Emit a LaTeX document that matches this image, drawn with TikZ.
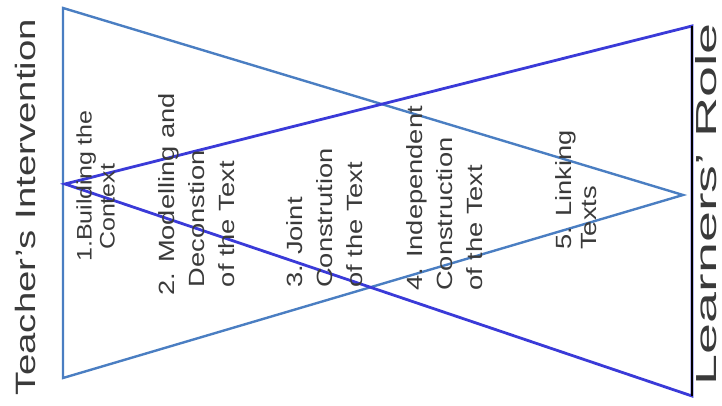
\documentclass[tikz,border=0pt]{standalone}
\usepackage{fontspec}
\setmainfont{Liberation Sans}
\usepackage{xcolor}
\usetikzlibrary{positioning}
\definecolor{cycleblue}{HTML}{4A7EC2}
\definecolor{cycleviolet}{HTML}{3A3AD8}
\definecolor{cyclegrey}{HTML}{3A3A3A}

\begin{document}
\begin{tikzpicture}[x=1pt, y=1pt,
      every node/.style={text=cyclegrey, inner sep=0pt},
      phase/.style={rotate=90, xscale=1.24, align=left, anchor=south west,
        font=\fontsize{22}{30}\selectfont},
      rolelabel/.style={rotate=90, anchor=base},
      teacheredge/.style={draw=cycleblue, line width=2.4pt, line join=miter},
      learneredge/.style={draw=cycleviolet, line width=2.8pt, line join=miter},
      roleline/.style={draw=black, line width=2pt}
    ]
    \useasboundingbox (0,0) rectangle (722,406);

    % teacher's triangle and learners' triangle
    \coordinate (tTop) at (63,398);
    \coordinate (tBot) at (63,28);
    \coordinate (tTip) at (683,211);
    \coordinate (lTip) at (65,222);
    \coordinate (lTop) at (692,380);
    \coordinate (lBot) at (692,10);

    \draw[teacheredge] (tTop) -- (tBot) -- (tTip) -- cycle;
    \draw[learneredge] (lTip) -- (lTop) -- (lBot) -- cycle;
    \draw[roleline] (lTop) -- (lBot);

    \node[rolelabel, font=\fontsize{28}{28}\selectfont, xscale=1.37] (teacher)
      at (35,199) {Teacher’s Intervention};
    \node[rolelabel, font=\fontsize{29}{29}\selectfont, xscale=1.92] (learner)
      at (716,202) {Learners’ Role};

    \node[phase, xscale=0.96, font=\fontsize{21}{23}\selectfont] (stage1) at (115,144)
      {1.Building the\\\hspace*{10pt}Context};
    \node[phase] (stage2) at (235,110)
      {2. Modelling and\\\hspace*{7pt}Deconstion\\\hspace*{7pt}of the Text};
    \node[phase] (stage3) at (363,118)
      {3. Joint\\Constrution\\of the Text};
    \node[phase] (stage4) at (483,115)
      {4. Independent\\Construction\\of the Text};
    \node[phase, font=\fontsize{22}{25}\selectfont] (stage5) at (597,156)
      {5. Linking\\Texts};
  \end{tikzpicture}
\end{document}
